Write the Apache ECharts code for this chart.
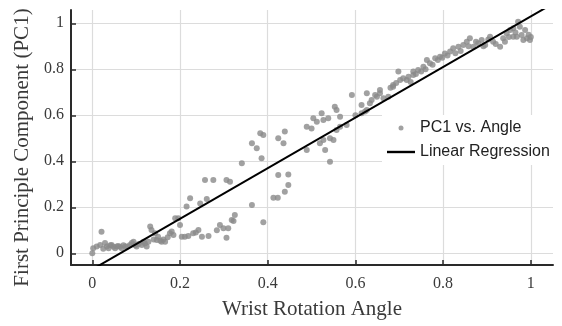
<!DOCTYPE html>
<html>
<head>
<meta charset="utf-8">
<script src="https://cdn.jsdelivr.net/npm/echarts@6/dist/echarts.min.js"></script>
<style>
  html, body { margin: 0; padding: 0; background: #fff; }
  #chart { width: 562px; height: 326px; }
</style>
</head>
<body>
<div id="chart"></div>
<script>
// Wrist rotation angle (x) and first principal component (y)
const angles = [
  0, 0.002, 0.01, 0.018, 0.021, 0.025, 0.029, 0.033, 0.037, 0.041, 0.044, 0.048, 0.052, 0.056, 0.059, 0.063, 0.067, 0.071, 0.075, 0.08, 0.086, 0.09, 0.094, 0.098, 0.101,
  0.106, 0.113, 0.117, 0.12, 0.124, 0.128, 0.132, 0.135, 0.14, 0.143, 0.147, 0.15, 0.155, 0.158, 0.162, 0.166, 0.172, 0.177, 0.181, 0.185, 0.189, 0.196, 0.2,
  0.204, 0.211, 0.215, 0.219, 0.223, 0.23, 0.236, 0.242, 0.246, 0.25, 0.257, 0.261, 0.265, 0.276, 0.284, 0.291, 0.299, 0.306, 0.306, 0.31, 0.314, 0.318, 0.322, 0.325, 0.341,
  0.364, 0.364, 0.375, 0.383, 0.39, 0.386, 0.39, 0.413, 0.423, 0.424, 0.447, 0.439, 0.447, 0.424, 0.436, 0.439, 0.489, 0.489,
  0.5, 0.504, 0.512, 0.519, 0.523, 0.527, 0.527, 0.531, 0.538, 0.542, 0.542, 0.55, 0.553, 0.557, 0.557, 0.565, 0.565, 0.58, 0.592,
  0.6, 0.614, 0.614, 0.622, 0.626, 0.626, 0.633, 0.637, 0.645, 0.649, 0.656, 0.656, 0.664, 0.675, 0.68, 0.686, 0.686, 0.693, 0.698,
  0.702, 0.709, 0.717, 0.721, 0.726, 0.732, 0.732, 0.738, 0.743, 0.75, 0.755, 0.76, 0.763, 0.77, 0.776, 0.782, 0.788, 0.793, 0.798,
  0.804, 0.81, 0.816, 0.823, 0.828, 0.835, 0.84, 0.846, 0.854, 0.858, 0.861, 0.869, 0.875, 0.88, 0.888, 0.892, 0.896,
  0.903, 0.907, 0.914, 0.92, 0.93, 0.937, 0.941, 0.945, 0.95, 0.953, 0.96, 0.96, 0.965, 0.968, 0.971, 0.975, 0.979, 0.983, 0.987, 0.991, 0.995, 0.998, 1.0
];
const pc1 = [
  0.0, 0.022, 0.03, 0.036, 0.094, 0.02, 0.045, 0.03, 0.022, 0.035, 0.036, 0.028, 0.022, 0.03, 0.032, 0.028, 0.022, 0.035, 0.029, 0.03, 0.036, 0.045, 0.05, 0.035, 0.029,
  0.04, 0.036, 0.05, 0.043, 0.029, 0.05, 0.116, 0.101, 0.06, 0.087, 0.058, 0.072, 0.055, 0.05, 0.06, 0.05, 0.07, 0.087, 0.095, 0.08, 0.152, 0.152, 0.123,
  0.072, 0.072, 0.203, 0.075, 0.239, 0.087, 0.09, 0.101, 0.217, 0.072, 0.319, 0.236, 0.075, 0.319, 0.1, 0.123, 0.109, 0.319, 0.068, 0.109, 0.311, 0.145, 0.14, 0.166, 0.391,
  0.478, 0.21, 0.457, 0.522, 0.514, 0.413, 0.135, 0.242, 0.242, 0.34, 0.343, 0.268, 0.297, 0.5, 0.478, 0.529, 0.55, 0.449,
  0.543, 0.587, 0.572, 0.478, 0.609, 0.493, 0.58, 0.449, 0.587, 0.5, 0.398, 0.493, 0.637, 0.536, 0.623, 0.55, 0.594, 0.558, 0.688,
  0.6, 0.645, 0.609, 0.616, 0.696, 0.623, 0.652, 0.667, 0.688, 0.681, 0.71, 0.696, 0.674, 0.681, 0.72, 0.724, 0.732, 0.74, 0.79,
  0.753, 0.761, 0.753, 0.768, 0.745, 0.79, 0.775, 0.78, 0.797, 0.79, 0.811, 0.8, 0.84, 0.826, 0.82, 0.848, 0.84, 0.855, 0.85,
  0.869, 0.86, 0.877, 0.891, 0.87, 0.898, 0.88, 0.906, 0.92, 0.9, 0.935, 0.898, 0.92, 0.913, 0.927, 0.9, 0.906,
  0.93, 0.942, 0.92, 0.91, 0.898, 0.935, 0.92, 0.957, 0.94, 0.971, 0.978, 0.942, 0.96, 0.942, 1.007, 0.985, 0.949, 0.927, 0.971, 0.935, 0.95, 0.927, 0.94
];
const tickValues = [0, 0.2, 0.4, 0.6, 0.8, 1];
const regressionSlope = 1.1;
const regressionIntercept = -0.07;
const seriesNames = ['PC1 vs. Angle', 'Linear Regression'];

const xMin = -0.0486, xMax = 1.0506;
const yMin = -0.0509, yMax = 1.0578;

const scatterData = angles.map((a, i) => [a, pc1[i]]);
const regressionData = [xMin, xMax].map(x => [x, regressionSlope * x + regressionIntercept]);

const serif = 'Liberation Serif, Times New Roman, serif';
const sans = 'Liberation Sans, Arial, sans-serif';

const axisCommon = {
  axisLine: { show: true, onZero: false, lineStyle: { color: '#2a2a2a', width: 2 } },
  axisTick: { show: true, inside: true, length: 5, customValues: tickValues, lineStyle: { color: '#2a2a2a', width: 1.5 } },
  axisLabel: { customValues: tickValues, color: '#3a3a3a', fontFamily: serif, fontSize: 16, formatter: v => String(v) },
  splitLine: { show: true, lineStyle: { color: '#dcdcdc', width: 1.2 } },
  nameLocation: 'middle',
  nameTextStyle: { fontFamily: serif, fontSize: 21, color: '#3a3a3a' }
};

const chart = echarts.init(document.getElementById('chart'), null, { renderer: 'canvas' });
chart.setOption({
  backgroundColor: '#fff',
  animation: false,
  grid: { left: 71, right: 9, top: 10, bottom: 61, containLabel: false },
  xAxis: Object.assign({}, axisCommon, {
    type: 'value', min: xMin, max: xMax,
    name: 'Wrist Rotation Angle', nameGap: 34,
    axisLabel: Object.assign({}, axisCommon.axisLabel, { margin: 11 })
  }),
  yAxis: Object.assign({}, axisCommon, {
    type: 'value', min: yMin, max: yMax,
    name: 'First Principle Component (PC1)', nameGap: 34,
    nameTextStyle: Object.assign({}, axisCommon.nameTextStyle, { padding: [0, 20, 0, 0] }),
    axisLabel: Object.assign({}, axisCommon.axisLabel, { margin: 7 })
  }),
  legend: {
    orient: 'vertical',
    left: 382, top: 115,
    padding: 5,
    itemWidth: 28, itemHeight: 16, itemGap: 8,
    backgroundColor: '#fff',
    textStyle: { fontFamily: sans, fontSize: 16, color: '#222' },
    data: [
      { name: seriesNames[0], icon: 'path://M0,0M28,16M11.5,8a2.5,2.5 0 1,0 5,0a2.5,2.5 0 1,0 -5,0z' },
      { name: seriesNames[1], icon: 'path://M0,0M28,16M0,6.8h28v2.4h-28z' }
    ]
  },
  series: [
    {
      name: seriesNames[0], type: 'scatter', data: scatterData,
      symbol: 'circle', symbolSize: 6,
      itemStyle: { color: '#8a8a8a' }
    },
    {
      name: seriesNames[1], type: 'line', data: regressionData,
      symbol: 'none', clip: true,
      lineStyle: { color: '#000', width: 2 },
      itemStyle: { color: '#000' },
      z: 3
    }
  ]
});
</script>
</body>
</html>
